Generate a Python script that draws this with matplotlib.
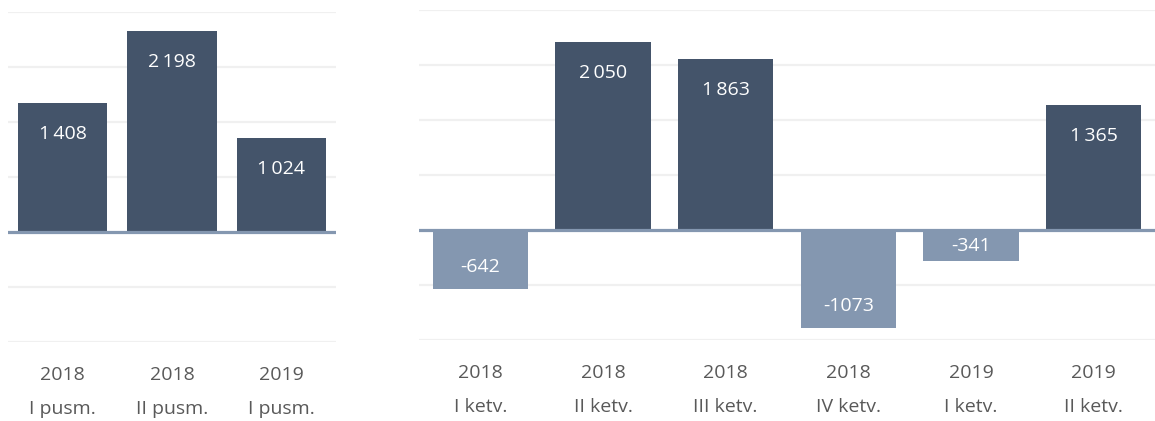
import numpy as np
import matplotlib.pyplot as plt

plt.rcParams['font.family'] = ['Open Sans', 'DejaVu Sans']

# half-year data
half_years = ['2018', '2018', '2019']
half_periods = ['I pusm.', 'II pusm.', 'I pusm.']
half_values = [1408, 2198, 1024]

# quarter data
q_years = ['2018', '2018', '2018', '2018', '2019', '2019']
q_periods = ['I ketv.', 'II ketv.', 'III ketv.', 'IV ketv.', 'I ketv.', 'II ketv.']
q_values = [-642, 2050, 1863, -1073, -341, 1365]

DARK = '#44546a'
LIGHT = '#8497b0'
GRID = '#f0f0f0'
TICK = '#595959'


def fmt(v):
    if v < 0:
        return f'-{abs(v)}'
    s = f'{v:,}'
    return s.replace(',', '\u2009')


def draw(ax, years, periods, values, width):
    x = np.arange(len(values))
    colors = [DARK if v >= 0 else LIGHT for v in values]
    ax.bar(x, values, width=width, color=colors, zorder=2)
    ax.set_xlim(-0.5, len(values) - 0.5)
    ax.set_ylim(-1200, 2400)
    for y in np.arange(-1200, 2401, 600):
        if y == 0:
            continue
        ax.axhline(y, color=GRID, lw=1.6, zorder=1)
    ax.axhline(0, color=LIGHT, lw=2.3, zorder=3)

    # data units per pixel, for label offset
    px = 3600 / (ax.get_position().height * ax.figure.get_figheight() * ax.figure.dpi)
    for xi, v in zip(x, values):
        off = min((31 if v > 0 else 22) * px, abs(v) / 2)
        ty = v - np.sign(v) * off
        ax.text(xi, ty, fmt(v), ha='center', va='center',
                color='white', fontsize=14, zorder=4)

    ax.set_xticks(x)
    ax.set_xticklabels([f'{y}\n{p}' for y, p in zip(years, periods)],
                       color=TICK, fontsize=14, linespacing=2.2)
    ax.tick_params(axis='x', length=0, pad=17)
    ax.set_yticks([])
    for s in ax.spines.values():
        s.set_visible(False)


fig = plt.figure(figsize=(11.55, 4.21), dpi=100)
ax1 = fig.add_axes([8 / 1155, 79 / 421, 328 / 1155, 330 / 421])
ax2 = fig.add_axes([419 / 1155, 81 / 421, 736 / 1155, 330 / 421])

draw(ax1, half_years, half_periods, half_values, 0.82)
draw(ax2, q_years, q_periods, q_values, 0.775)

fig.savefig('out.png', dpi=100)
